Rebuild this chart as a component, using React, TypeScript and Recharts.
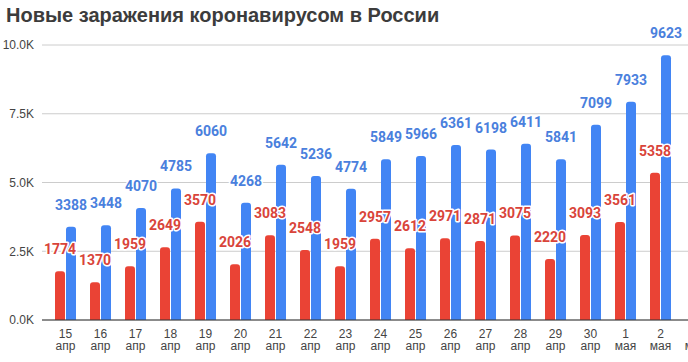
import React from "react";
import { Bar, BarChart, CartesianGrid, LabelList, XAxis, YAxis } from "recharts";

// даты: число и месяц (последняя категория обрезана краем картинки)
const days = ["15", "16", "17", "18", "19", "20", "21", "22", "23", "24", "25", "26", "27", "28", "29", "30", "1", "2", "3"];
const months = [
  "апр", "апр", "апр", "апр", "апр", "апр", "апр", "апр", "апр", "апр",
  "апр", "апр", "апр", "апр", "апр", "апр", "мая", "мая", "мая",
];
const moscow = [1774, 1370, 1959, 2649, 3570, 2026, 3083, 2548, 1959, 2957, 2612, 2971, 2871, 3075, 2220, 3093, 3561, 5358, null];
const russia = [3388, 3448, 4070, 4785, 6060, 4268, 5642, 5236, 4774, 5849, 5966, 6361, 6198, 6411, 5841, 7099, 7933, 9623, null];
const yTicks = [0, 2500, 5000, 7500, 10000];

const data = days.map((d, i) => ({
  key: `${d} ${months[i]}`,
  day: d,
  month: months[i],
  moscow: moscow[i],
  russia: russia[i],
}));

const BAR_SIZE = 10;
const BAR_GAP = 1;
const BLUE = "#4285f4";
const RED = "#ea4335";
const BLUE_TEXT = "#4a80dd";
const RED_TEXT = "#d9443a";

type TickProps = { x?: number; y?: number; payload?: { value: string; index: number } };

function DateTick({ x = 0, y = 0, payload }: TickProps) {
  const row = data.find((r) => r.key === payload?.value);
  if (!row) return null;
  return (
    <text x={x} y={y} textAnchor="middle" fill="#444" fontSize={12} fontFamily="'Liberation Sans', Arial, sans-serif">
      <tspan x={x} dy="0.8em">{row.day}</tspan>
      <tspan x={x} dy="1.05em">{row.month}</tspan>
    </text>
  );
}

type LabelProps = { x?: number; y?: number; width?: number; height?: number; index?: number; value?: number | null };

// both series' labels are drawn here, so the red ones sit above the blue bars
function PairLabel({ x = 0, y = 0, width = 0, height = 0, index = 0 }: LabelProps) {
  const row = data[index];
  if (!row || row.russia == null || row.moscow == null) return null;
  const bottom = y + height;
  const redTop = bottom - (height * row.moscow) / row.russia;
  const redX = x - BAR_GAP - BAR_SIZE / 2;
  const common = {
    textAnchor: "middle" as const,
    fontSize: 14,
    fontWeight: 700,
    fontFamily: "Roboto, sans-serif",
    stroke: "#fff",
    strokeWidth: 3,
    paintOrder: "stroke" as const,
    strokeLinejoin: "round" as const,
  };
  return (
    <g>
      <text {...common} x={x + width / 2} y={y - 17} fill={BLUE_TEXT}>
        {row.russia}
      </text>
      <text {...common} x={redX} y={redTop - 17} fill={RED_TEXT}>
        {row.moscow}
      </text>
    </g>
  );
}

export default function App() {
  return (
    <div
      style={{
        position: "absolute",
        left: 0,
        top: 0,
        width: 688,
        height: 362,
        overflow: "hidden",
        background: "#fff",
      }}
    >
      <div
        style={{
          position: "absolute",
          left: 6,
          top: 3,
          fontFamily: "'Liberation Sans', Arial, sans-serif",
          fontWeight: 700,
          fontSize: 20,
          lineHeight: "24px",
          color: "#3c3c3c",
          whiteSpace: "nowrap",
        }}
      >
        Новые заражения коронавирусом в России
      </div>
      <BarChart
        width={720}
        height={362}
        data={data}
        margin={{ top: 45, right: 7, bottom: 0, left: 0 }}
        barSize={BAR_SIZE}
        barGap={BAR_GAP}
      >
        <CartesianGrid vertical={false} stroke="#cccccc" />
        <XAxis
          dataKey="key"
          height={42}
          interval={0}
          padding={{ left: 6, right: 0 }}
          tickLine={false}
          axisLine={{ stroke: "#333" }}
          tick={<DateTick />}
        />
        <YAxis
          width={42}
          domain={[0, 10000]}
          ticks={yTicks}
          axisLine={false}
          tickLine={false}
          tickFormatter={(v: number) => `${(v / 1000).toFixed(1)}K`}
          tick={{ fill: "#444", fontSize: 12, fontFamily: "'Liberation Sans', Arial, sans-serif" }}
        />
        <Bar dataKey="moscow" fill={RED} radius={[3, 3, 0, 0]} isAnimationActive={false} />
        <Bar dataKey="russia" fill={BLUE} radius={[3, 3, 0, 0]} isAnimationActive={false}>
          <LabelList dataKey="russia" content={<PairLabel />} />
        </Bar>
      </BarChart>
    </div>
  );
}
